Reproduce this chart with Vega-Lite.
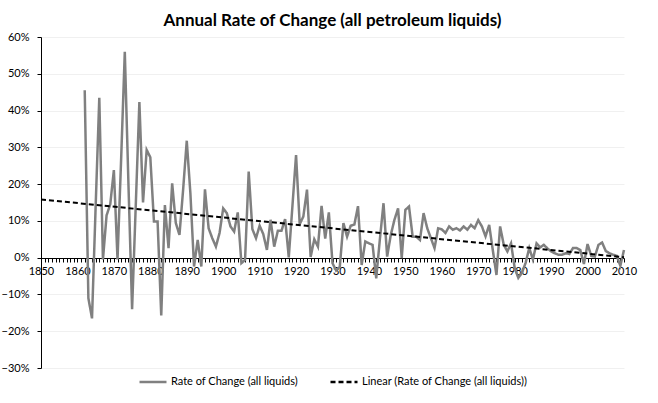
{
  "$schema": "https://vega.github.io/schema/vega-lite/v6.json",
  "width": 583,
  "height": 331,
  "autosize": {"type": "none"},
  "padding": {"left": 41, "top": 37, "right": 34, "bottom": 35},
  "background": "white",
  "title": {"text": "Annual Rate of Change (all petroleum liquids)", "font": "Lato", "fontSize": 17, "fontWeight": "bold", "color": "#000000", "anchor": "middle", "offset": 1},
  "config": {"view": {"stroke": null}, "axisY": {"labelOverlap": false}},
  "data": {"values": [
    {"year": 1862, "value": 45.5}, {"year": 1863, "value": -11}, {"year": 1864, "value": -16.5}, {"year": 1865, "value": 14},
    {"year": 1866, "value": 43.5}, {"year": 1867, "value": -0.5}, {"year": 1868, "value": 11.5}, {"year": 1869, "value": 14.5},
    {"year": 1870, "value": 23.8}, {"year": 1871, "value": -0.5}, {"year": 1872, "value": 27}, {"year": 1873, "value": 56},
    {"year": 1874, "value": 20}, {"year": 1875, "value": -14}, {"year": 1876, "value": 14}, {"year": 1877, "value": 42.3},
    {"year": 1878, "value": 15}, {"year": 1879, "value": 29.3}, {"year": 1880, "value": 27.3}, {"year": 1881, "value": 9.8},
    {"year": 1882, "value": 9.8}, {"year": 1883, "value": -15.7}, {"year": 1884, "value": 14.3}, {"year": 1885, "value": 2.6},
    {"year": 1886, "value": 20.2}, {"year": 1887, "value": 9.4}, {"year": 1888, "value": 6.2}, {"year": 1889, "value": 18.4},
    {"year": 1890, "value": 31.8}, {"year": 1891, "value": 17.5}, {"year": 1892, "value": -2.4}, {"year": 1893, "value": 4.8},
    {"year": 1894, "value": -2.4}, {"year": 1895, "value": 18.6}, {"year": 1896, "value": 8.0}, {"year": 1897, "value": 5.3},
    {"year": 1898, "value": 3.0}, {"year": 1899, "value": 6.7}, {"year": 1900, "value": 13.4}, {"year": 1901, "value": 12.1},
    {"year": 1902, "value": 8.5}, {"year": 1903, "value": 7.1}, {"year": 1904, "value": 12.3}, {"year": 1905, "value": -1.5},
    {"year": 1906, "value": -0.6}, {"year": 1907, "value": 23.4}, {"year": 1908, "value": 7.8}, {"year": 1909, "value": 5.3},
    {"year": 1910, "value": 8.7}, {"year": 1911, "value": 6.4}, {"year": 1912, "value": 2.1}, {"year": 1913, "value": 10.3},
    {"year": 1914, "value": 3.0}, {"year": 1915, "value": 7.3}, {"year": 1916, "value": 7.3}, {"year": 1917, "value": 10.5},
    {"year": 1918, "value": 0.1}, {"year": 1919, "value": 14}, {"year": 1920, "value": 27.9}, {"year": 1921, "value": 9.1},
    {"year": 1922, "value": 11.2}, {"year": 1923, "value": 18.5}, {"year": 1924, "value": 0.2}, {"year": 1925, "value": 5.0},
    {"year": 1926, "value": 3.0}, {"year": 1927, "value": 14.1}, {"year": 1928, "value": 5.2}, {"year": 1929, "value": 12.3},
    {"year": 1930, "value": -1.5}, {"year": 1931, "value": -3.5}, {"year": 1932, "value": -2.5}, {"year": 1933, "value": 9.4},
    {"year": 1934, "value": 5.7}, {"year": 1935, "value": 8.7}, {"year": 1936, "value": 9.0}, {"year": 1937, "value": 14.0},
    {"year": 1938, "value": -2.0}, {"year": 1939, "value": 4.4}, {"year": 1940, "value": 3.9}, {"year": 1941, "value": 3.5},
    {"year": 1942, "value": -5.6}, {"year": 1943, "value": 5.0}, {"year": 1944, "value": 14.8}, {"year": 1945, "value": 0.3},
    {"year": 1946, "value": 6.2}, {"year": 1947, "value": 10.3}, {"year": 1948, "value": 13.4}, {"year": 1949, "value": -0.1},
    {"year": 1950, "value": 13.0}, {"year": 1951, "value": 13.9}, {"year": 1952, "value": 5.7}, {"year": 1953, "value": 5.7},
    {"year": 1954, "value": 4.8}, {"year": 1955, "value": 12.1}, {"year": 1956, "value": 8.0}, {"year": 1957, "value": 5.3},
    {"year": 1958, "value": 2.6}, {"year": 1959, "value": 8.0}, {"year": 1960, "value": 7.7}, {"year": 1961, "value": 6.7},
    {"year": 1962, "value": 8.5}, {"year": 1963, "value": 7.6}, {"year": 1964, "value": 8.0}, {"year": 1965, "value": 7.4},
    {"year": 1966, "value": 8.5}, {"year": 1967, "value": 7.6}, {"year": 1968, "value": 8.9}, {"year": 1969, "value": 8.0},
    {"year": 1970, "value": 10.2}, {"year": 1971, "value": 8.5}, {"year": 1972, "value": 5.8}, {"year": 1973, "value": 8.9},
    {"year": 1974, "value": 2.0}, {"year": 1975, "value": -4.7}, {"year": 1976, "value": 8.5}, {"year": 1977, "value": 3.5},
    {"year": 1978, "value": 1.7}, {"year": 1979, "value": 3.9}, {"year": 1980, "value": -2.8}, {"year": 1981, "value": -5.5},
    {"year": 1982, "value": -4.1}, {"year": 1983, "value": -1.4}, {"year": 1984, "value": 2.6}, {"year": 1985, "value": -0.5},
    {"year": 1986, "value": 3.9}, {"year": 1987, "value": 2.8}, {"year": 1988, "value": 3.5}, {"year": 1989, "value": 2.5},
    {"year": 1990, "value": 1.7}, {"year": 1991, "value": 1.2}, {"year": 1992, "value": 0.8}, {"year": 1993, "value": 0.8},
    {"year": 1994, "value": 1.2}, {"year": 1995, "value": 1.0}, {"year": 1996, "value": 2.6}, {"year": 1997, "value": 2.6},
    {"year": 1998, "value": 2.1}, {"year": 1999, "value": -1.7}, {"year": 2000, "value": 3.7}, {"year": 2001, "value": 0.5},
    {"year": 2002, "value": 0.3}, {"year": 2003, "value": 3.5}, {"year": 2004, "value": 4.1}, {"year": 2005, "value": 1.8},
    {"year": 2006, "value": 1.2}, {"year": 2007, "value": 0.8}, {"year": 2008, "value": 0.5}, {"year": 2009, "value": -2.2},
    {"year": 2010, "value": 2.1}
  ]},
  "layer": [
    {
      "mark": {"type": "line", "strokeWidth": 2.5},
      "encoding": {
        "x": {"field": "year", "type": "quantitative",
          "scale": {"domain": [1850, 2010], "nice": false, "zero": false},
          "axis": {"title": null, "offset": -110, "tickCount": 160, "format": "d",
            "labelExpr": "datum.value % 10 === 0 ? datum.label : ''",
            "labelOverlap": false, "labelFlush": false, "grid": false,
            "domainColor": "#000000", "tickColor": "#000000", "tickSize": 4,
            "labelFont": "Lato", "labelFontSize": 11, "labelColor": "#000000", "labelPadding": 3}},
        "y": {"field": "value", "type": "quantitative",
          "scale": {"domain": [-30, 60], "nice": false},
          "axis": {"title": null, "tickCount": 9,
            "labelExpr": "datum.label + '%'", "labelFlush": false, "labelOverlap": false,
            "grid": true, "gridColor": "#f0f0f0",
            "domainColor": "#000000", "tickColor": "#000000", "tickSize": 4,
            "labelPadding": 8, "labelFont": "Lato", "labelFontSize": 11, "labelColor": "#000000"}},
        "color": {"datum": "Rate of Change (all liquids)",
          "scale": {"domain": ["Rate of Change (all liquids)", "Linear (Rate of Change (all liquids))"], "range": ["#808080", "#000000"]},
          "legend": {"title": null, "orient": "none", "direction": "horizontal", "legendX": 97, "legendY": 330,
            "symbolType": "stroke", "symbolSize": 729, "symbolStrokeWidth": 2.5, "labelOffset": 3, "labelLimit": 0,
            "columnPadding": 27, "labelFont": "Lato", "labelFontSize": 11, "labelColor": "#000000"}},
        "strokeDash": {"datum": "Rate of Change (all liquids)",
          "scale": {"domain": ["Rate of Change (all liquids)", "Linear (Rate of Change (all liquids))"], "range": [[1, 0], [5, 3]]},
          "legend": {"title": null, "orient": "none", "direction": "horizontal", "legendX": 97, "legendY": 330,
            "symbolType": "stroke", "symbolSize": 729, "symbolStrokeWidth": 2.5, "labelOffset": 3, "labelLimit": 0,
            "columnPadding": 27, "labelFont": "Lato", "labelFontSize": 11, "labelColor": "#000000"}}
      }
    },
    {
      "transform": [{"regression": "value", "on": "year", "extent": [1850, 2010]}],
      "mark": {"type": "line", "strokeWidth": 2},
      "encoding": {
        "x": {"field": "year", "type": "quantitative"},
        "y": {"field": "value", "type": "quantitative"},
        "color": {"datum": "Linear (Rate of Change (all liquids))"},
        "strokeDash": {"datum": "Linear (Rate of Change (all liquids))"}
      }
    }
  ]
}
